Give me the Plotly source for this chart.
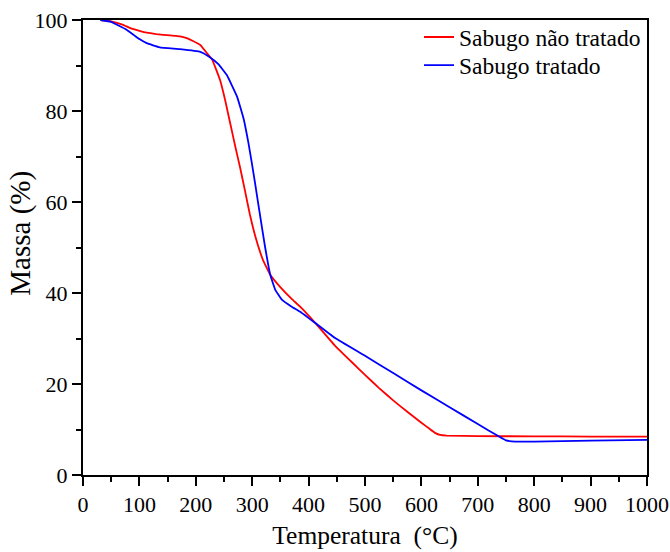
import plotly.graph_objects as go

# Sabugo não tratado (red)
temp_nt = [31, 50, 70, 84, 100, 113, 130, 155, 172, 184, 195, 208, 218, 229, 243, 252, 261, 270, 279, 287, 296, 307, 319, 332, 349, 370, 385, 412, 447, 475, 500, 525, 550, 575, 600, 615, 625, 633, 645, 700, 800, 900, 1000]
mass_nt = [100, 99.7, 99.0, 98.2, 97.6, 97.2, 96.9, 96.6, 96.4, 96.0, 95.4, 94.5, 93.0, 91.3, 86.8, 82.4, 77.3, 72.2, 67.3, 62.6, 57.2, 51.8, 47.3, 44.0, 41.4, 38.7, 37.0, 33.4, 28.4, 25.0, 22.0, 19.1, 16.4, 13.9, 11.5, 10.1, 9.2, 8.8, 8.65, 8.55, 8.5, 8.45, 8.45]

# Sabugo tratado (blue)
temp_t = [31, 50, 61, 75, 90, 100, 113, 136, 172, 208, 223, 240, 255, 273, 285, 293, 299, 305, 314, 323, 332, 341, 353, 370, 385, 412, 447, 500, 550, 600, 650, 700, 737, 750, 760, 780, 800, 850, 900, 1000]
mass_t = [100, 99.6, 98.9, 98.0, 96.7, 95.8, 94.9, 94.0, 93.6, 93.0, 92.0, 90.3, 87.9, 83.2, 78.2, 73.2, 68.8, 64.2, 57.0, 50.0, 44.0, 40.7, 38.5, 37.0, 35.9, 33.4, 30.1, 26.2, 22.4, 18.6, 14.9, 11.2, 8.5, 7.6, 7.4, 7.35, 7.35, 7.45, 7.55, 7.7]

x_ticks = [0, 100, 200, 300, 400, 500, 600, 700, 800, 900, 1000]
y_ticks = [0, 20, 40, 60, 80, 100]

FONT = "Liberation Serif"

fig = go.Figure()
fig.add_trace(go.Scatter(x=temp_nt, y=mass_nt, mode="lines", name="Sabugo não tratado", legend="legend",
                         line=dict(color="#FF0000", width=1.8, shape="spline", smoothing=0.3)))
fig.add_trace(go.Scatter(x=temp_t, y=mass_t, mode="lines", name="Sabugo tratado", legend="legend2",
                         line=dict(color="#0000FF", width=1.8, shape="spline", smoothing=0.3)))

axis_common = dict(showline=True, linecolor="black", linewidth=2, mirror=True,
                   ticks="outside", ticklen=9, tickwidth=1.5, tickcolor="black",
                   showgrid=False, zeroline=False, automargin=False,
                   tickfont=dict(family=FONT, size=22, color="black"))

fig.update_xaxes(range=[0, 1000], tickvals=x_ticks, ticktext=[str(v) for v in x_ticks],
                 minor=dict(ticks="outside", ticklen=5, tickwidth=1.5, tickcolor="black", dtick=50, tick0=0),
                 title=dict(text="Temperatura\u00a0 (°C)", font=dict(family=FONT, size=25.5, color="black"), standoff=10),
                 **axis_common)
fig.update_yaxes(range=[0, 100], tickvals=y_ticks, ticktext=[str(v) for v in y_ticks],
                 minor=dict(ticks="outside", ticklen=5, tickwidth=1.5, tickcolor="black", dtick=10, tick0=0),
                 **axis_common)

legend_style = dict(xanchor="left", yanchor="top", bgcolor="rgba(0,0,0,0)",
                    font=dict(family=FONT, size=23.5, color="black"), tracegroupgap=0)

fig.update_layout(
    width=670, height=552,
    margin=dict(l=83, r=23, t=20, b=77),
    plot_bgcolor="white", paper_bgcolor="white",
    font=dict(family=FONT, color="black"),
    legend=dict(x=(419 - 83) / 564, y=(475.3 - 15.5) / 455, **legend_style),
    legend2=dict(x=(419 - 83) / 564, y=(475.3 - 43.7) / 455, **legend_style),
    showlegend=True,
    annotations=[dict(text="Massa (%)", textangle=-90, xref="paper", yref="paper",
                      x=(21 - 83) / 564, y=(475.3 - 234) / 455, xanchor="center", yanchor="middle",
                      showarrow=False, font=dict(family=FONT, size=29, color="black"))],
)

fig.write_html("out.html")
